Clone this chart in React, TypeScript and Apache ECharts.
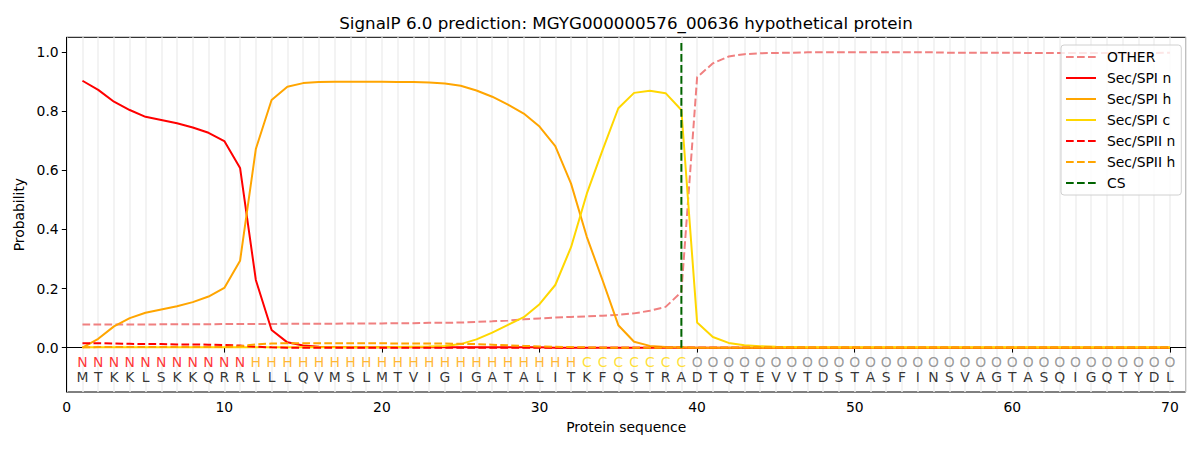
import React, { useEffect, useRef } from "react";
import * as echarts from "echarts";

const residues = "MTKKLSKKQRRLLLQVMSLMTVIGIGATALITKFQSTRADTQTEVVTDSTASFINSVAGTASQIGQTYDL".split("");
const regions = "NNNNNNNNNNNHHHHHHHHHHHHHHHHHHHHHCCCCCCCOOOOOOOOOOOOOOOOOOOOOOOOOOOOOOO".split("");

const other = [
  0.078, 0.078, 0.078, 0.078, 0.078, 0.079, 0.079, 0.079, 0.079, 0.080,
  0.080, 0.080, 0.080, 0.081, 0.081, 0.081, 0.081, 0.082, 0.082, 0.082,
  0.083, 0.083, 0.084, 0.084, 0.085, 0.087, 0.089, 0.092, 0.096, 0.099,
  0.102, 0.104, 0.106, 0.108, 0.111, 0.116, 0.125, 0.138, 0.188, 0.915,
  0.962, 0.985, 0.993, 0.996, 0.997, 0.998, 0.999, 0.999, 0.999, 0.999,
  0.999, 0.999, 0.999, 0.999, 0.999, 0.998, 0.998, 0.998, 0.998, 0.998,
  0.997, 0.997, 0.997, 0.997, 0.997, 0.997, 0.996, 0.996, 0.997, 0.998,
];
const spiN = [
  0.903, 0.872, 0.832, 0.804, 0.781, 0.770, 0.759, 0.745, 0.727, 0.699,
  0.608, 0.229, 0.060, 0.018, 0.007, 0.003, 0.002, 0.001, 0.001, 0.001,
  0.001, 0.001, 0.001, 0.001, 0.001, 0.001, 0.001, 0.001, 0.001, 0.001,
  0, 0, 0, 0, 0, 0, 0, 0, 0, 0,
  0, 0, 0, 0, 0, 0, 0, 0, 0, 0,
  0, 0, 0, 0, 0, 0, 0, 0, 0, 0,
  0, 0, 0, 0, 0, 0, 0, 0, 0, 0,
];
const spiH = [
  0.000, 0.030, 0.072, 0.100, 0.118, 0.129, 0.140, 0.154, 0.173, 0.202,
  0.294, 0.672, 0.838, 0.883, 0.895, 0.899, 0.900, 0.900, 0.900, 0.900,
  0.899, 0.899, 0.897, 0.894, 0.886, 0.870, 0.849, 0.822, 0.792, 0.748,
  0.682, 0.555, 0.375, 0.228, 0.076, 0.020, 0.006, 0.002, 0.001, 0,
  0, 0, 0, 0, 0, 0, 0, 0, 0, 0,
  0, 0, 0, 0, 0, 0, 0, 0, 0, 0,
  0, 0, 0, 0, 0, 0, 0, 0, 0, 0,
];
const spiC = [
  0.001, 0.001, 0.001, 0.001, 0.001, 0.001, 0.001, 0.001, 0.001, 0.001,
  0.001, 0.001, 0.001, 0.001, 0.001, 0.001, 0.001, 0.001, 0.001, 0.001,
  0.002, 0.003, 0.004, 0.006, 0.012, 0.028, 0.051, 0.077, 0.103, 0.147,
  0.212, 0.340, 0.521, 0.668, 0.810, 0.862, 0.869, 0.861, 0.804, 0.085,
  0.036, 0.016, 0.008, 0.005, 0.003, 0.002, 0.001, 0.001, 0.001, 0.001,
  0.001, 0.001, 0.001, 0.001, 0.001, 0.001, 0.001, 0.001, 0.001, 0.001,
  0.001, 0.001, 0.001, 0.001, 0.001, 0.001, 0.001, 0.001, 0.001, 0.001,
];
const spiiN = [
  0.015, 0.015, 0.014, 0.013, 0.012, 0.012, 0.011, 0.011, 0.010, 0.009,
  0.007, 0.003, 0.001, 0, 0, 0, 0, 0, 0, 0,
  0, 0, 0, 0, 0, 0, 0, 0, 0, 0,
  0, 0, 0, 0, 0, 0, 0, 0, 0, 0,
  0, 0, 0, 0, 0, 0, 0, 0, 0, 0,
  0, 0, 0, 0, 0, 0, 0, 0, 0, 0,
  0, 0, 0, 0, 0, 0, 0, 0, 0, 0,
];
const spiiH = [
  0.001, 0.002, 0.002, 0.002, 0.002, 0.002, 0.002, 0.002, 0.002, 0.002,
  0.005, 0.011, 0.014, 0.015, 0.015, 0.015, 0.015, 0.015, 0.015, 0.015,
  0.014, 0.014, 0.014, 0.014, 0.013, 0.012, 0.010, 0.008, 0.006, 0.004,
  0.003, 0.002, 0.001, 0, 0, 0, 0, 0, 0, 0,
  0, 0, 0, 0, 0, 0, 0, 0, 0, 0,
  0, 0, 0, 0, 0, 0, 0, 0, 0, 0,
  0, 0, 0, 0, 0, 0, 0, 0, 0, 0,
];
const csPosition = 39;
const csSpan = [0, 1.04];
const yTicks = [0, 0.2, 0.4, 0.6, 0.8, 1.0];
const regionRowY = -0.047;
const residueRowY = -0.098;
const regionColors: Record<string, string> = { N: "#ff0000", H: "#ffa500", C: "#ffd700", O: "#808080" };

const FONT = "DejaVu Sans";

const toXY = (arr: number[]) => arr.map((v, i) => [i + 1, v]);

const dash = [7.7, 3.3];

export default function App() {
  const ref = useRef<HTMLDivElement>(null);
  useEffect(() => {
    document.body.style.margin = "0";
    if (!ref.current) return;
    const chart = echarts.init(ref.current, undefined, { renderer: "svg" });
    const lineSeries = (name: string, data: number[], color: string, dashed: boolean) => ({
      name,
      type: "line",
      data: toXY(data),
      symbol: "none",
      showSymbol: false,
      lineStyle: { color, width: 2, type: dashed ? dash : "solid" },
      itemStyle: { color },
      z: 3,
    });
    chart.setOption({
      animation: false,
      graphic: [
        {
          type: "text",
          x: 626,
          y: 23,
          style: {
            text: "SignalP 6.0 prediction: MGYG000000576_00636 hypothetical protein",
            fontFamily: FONT,
            fontSize: 16.7,
            fill: "#000",
            textAlign: "center",
            textVerticalAlign: "middle",
          },
        },
      ],
      grid: {
        left: 66.7,
        right: 14.3,
        top: 37.3,
        bottom: 58,
        show: true,
        borderColor: "#000",
        borderWidth: 1,
        backgroundColor: "transparent",
      },
      legend: {
        orient: "vertical",
        left: 1061,
        top: 45,
        itemWidth: 30,
        itemHeight: 14,
        itemGap: 7,
        padding: [5, 6, 5, 4],
        borderColor: "#d0d0d0",
        borderWidth: 1,
        borderRadius: 3,
        backgroundColor: "rgba(255,255,255,0.8)",
        itemStyle: { opacity: 0 },
        textStyle: { fontFamily: FONT, fontSize: 13.9, color: "#000", padding: [0, 0, 0, 6] },
        data: ["OTHER", "Sec/SPI n", "Sec/SPI h", "Sec/SPI c", "Sec/SPII n", "Sec/SPII h", "CS"],
      },
      xAxis: [
        {
          type: "value",
          min: 0,
          max: 71,
          interval: 10,
          name: "Protein sequence",
          nameLocation: "middle",
          nameGap: 28,
          nameTextStyle: { fontFamily: FONT, fontSize: 13.9, color: "#000" },
          axisLine: { show: true, lineStyle: { color: "#000", width: 1 } },
          axisTick: { show: true, length: 4.9, lineStyle: { color: "#000", width: 1 } },
          axisLabel: { fontFamily: FONT, fontSize: 13.9, color: "#000", margin: 8 },
          splitLine: { show: false },
        },
        {
          type: "value",
          min: 0,
          max: 71,
          interval: 1,
          position: "bottom",
          axisLine: { show: false },
          axisTick: { show: false },
          axisLabel: { show: false },
          splitLine: { show: true, lineStyle: { color: "#efefef", width: 1.5 } },
        },
      ],
      yAxis: {
        type: "value",
        min: -0.15,
        max: 1.05,
        name: "Probability",
        nameLocation: "middle",
        nameGap: 39,
        nameTextStyle: { fontFamily: FONT, fontSize: 13.9, color: "#000" },
        axisLine: { show: true, lineStyle: { color: "#000", width: 1 } },
        axisTick: { show: true, length: 4.9, lineStyle: { color: "#000", width: 1 }, customValues: yTicks },
        axisLabel: {
          fontFamily: FONT,
          fontSize: 13.9,
          color: "#000",
          margin: 8,
          customValues: yTicks,
          formatter: (v: number) => v.toFixed(1),
        },
        splitLine: { show: false },
      },
      series: [
        lineSeries("OTHER", other, "#f08080", true),
        lineSeries("Sec/SPI n", spiN, "#ff0000", false),
        lineSeries("Sec/SPI h", spiH, "#ffa500", false),
        lineSeries("Sec/SPI c", spiC, "#ffd700", false),
        lineSeries("Sec/SPII n", spiiN, "#ff0000", true),
        lineSeries("Sec/SPII h", spiiH, "#ffa500", true),
        {
          name: "CS",
          type: "line",
          data: csSpan.map((v) => [csPosition, v]),
          symbol: "none",
          showSymbol: false,
          lineStyle: { color: "#006400", width: 2, type: dash },
          itemStyle: { color: "#006400" },
          z: 4,
        },
        {
          name: "regions",
          type: "scatter",
          symbolSize: 0,
          silent: true,
          z: 5,
          data: regions.map((r, i) => ({
            value: [i + 1, regionRowY],
            label: {
              show: true,
              position: "inside",
              formatter: r,
              color: regionColors[r],
              fontFamily: FONT,
              fontSize: 13.9,
            },
          })),
        },
        {
          name: "residues",
          type: "scatter",
          symbolSize: 0,
          silent: true,
          z: 5,
          data: residues.map((r, i) => ({
            value: [i + 1, residueRowY],
            label: {
              show: true,
              position: "inside",
              formatter: r,
              color: "#000",
              fontFamily: FONT,
              fontSize: 13.9,
            },
          })),
        },
      ],
    });
    return () => chart.dispose();
  }, []);
  return <div ref={ref} style={{ width: 1200, height: 450 }} />;
}
